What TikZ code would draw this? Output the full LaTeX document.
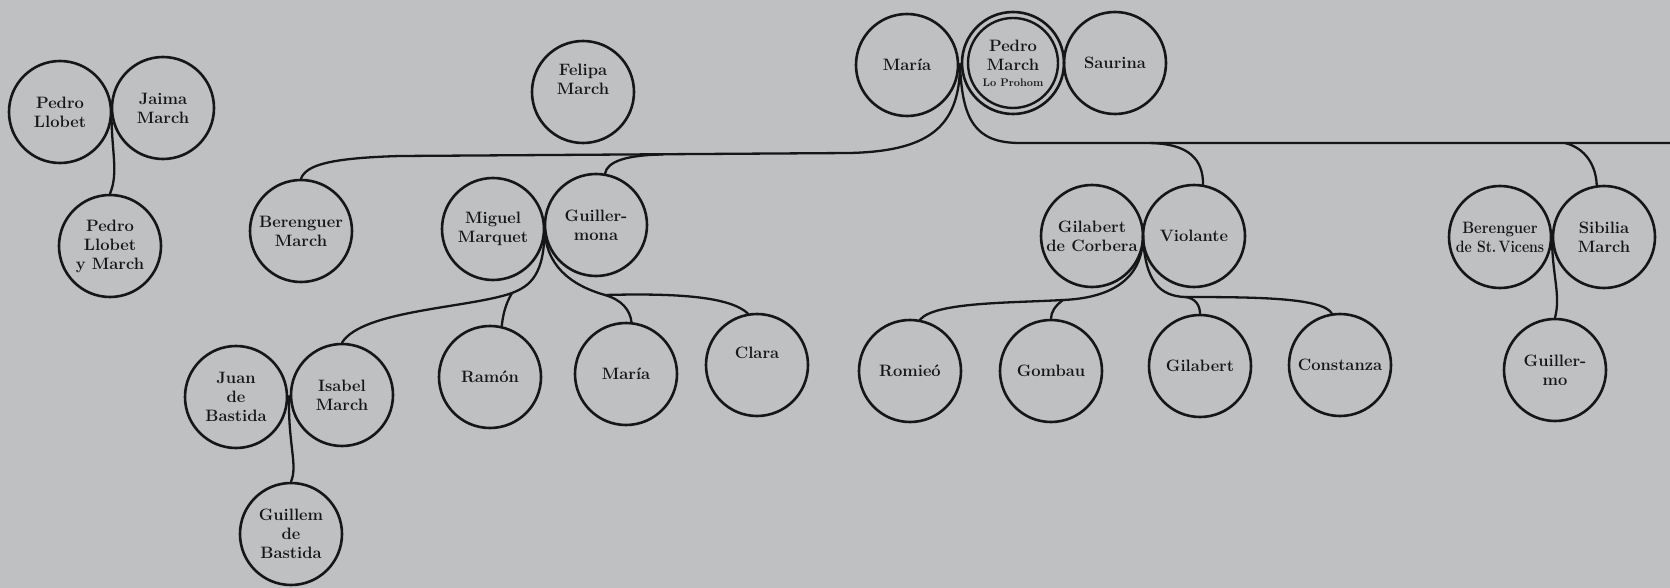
\documentclass[tikz,border=0pt]{standalone}
\usepackage{graphicx}
\usetikzlibrary{calc}
\definecolor{bgc}{RGB}{190,192,194}
\definecolor{ink}{RGB}{22,22,22}
\tikzset{
  person/.style={circle, draw=ink, line width=2.6pt, minimum size=102pt, inner sep=0pt,
    align=center, font=\fontsize{16.5}{19}\selectfont\bfseries, text=ink},
  link/.style={draw=ink, line width=2.3pt, line cap=round},
}
\begin{document}
\begin{tikzpicture}[x=1pt,y=-1pt]
\fill[bgc] (0,0) rectangle (1670,588);
\useasboundingbox (0,0) rectangle (1670,588);

% persons
\node[person] (pl) at (60,112) {Pedro\\Llobet};
\node[person] (ja) at (163,108) {Jaima\\March};
\node[person] (plm) at (110,246) {Pedro\\Llobet\\y March};

\node[person] (fm) at (583,92) {Felipa\\March\\[6pt]};

\node[person] (ma) at (907,65) {María};
\node[person] (pm) at (1013,63) {Pedro\\March\\[-3pt]{\fontsize{11}{11}\selectfont Lo Prohom}};
\draw[ink, line width=2.4pt] (pm.center) circle[radius=45pt];
\node[person] (sa) at (1115,63) {Saurina};

\node[person] (bm) at (301,231) {Berenguer\\March};
\node[person] (mq) at (493,229) {Miguel\\Marquet};
\node[person] (gm) at (596,225) {Guiller-\\mona};

\node[person] (jb) at (236,397) {Juan\\de\\Bastida};
\node[person] (im) at (342,395) {Isabel\\March};
\node[person] (gb) at (291,534) {Guillem\\de\\Bastida};

\node[person] (ra) at (490,377) {Ramón};
\node[person] (m2) at (626,374) {María};
\node[person] (cl) at (757,365) {Clara\\[6pt]};

\node[person] (gc) at (1092,236) {Gilabert\\de Corbera};
\node[person] (vi) at (1194,236) {Violante};

\node[person] (ro) at (910,371) {Romieó};
\node[person] (go) at (1051,371) {Gombau};
\node[person] (gi) at (1200,366) {Gilabert};
\node[person] (co) at (1340,365) {Constanza};

\node[person] (bv) at (1500,237) {\scalebox{0.9}[1]{Berenguer}\\\scalebox{0.85}[1]{de St.\,Vicens}};
\node[person] (sb) at (1604,237) {Sibilia\\March};
\node[person] (gu) at (1555,370) {Guiller-\\mo};

% junction points where couples touch
\coordinate (j1) at ($(pl.center)!0.5!(ja.center)$);
\coordinate (jt) at ($(ma.center)!0.5!(pm.center)$);
\coordinate (jq) at ($(mq.center)!0.5!(gm.center)$);
\coordinate (jbi) at ($(jb.center)!0.5!(im.center)$);
\coordinate (jg) at ($(gc.center)!0.5!(vi.center)$);
\coordinate (jsv) at ($(bv.center)!0.5!(sb.center)$);
\coordinate (rt) at (1670,143);

% connectors
\draw[link] (j1) .. controls (111,150) and (119,172) .. (plm.north);

\draw[link] (jt) .. controls (960,130) and (925,151) .. (850,153)
  -- (400,156) .. controls (330,158) and (306,165) .. (bm.north);
\draw[link] (663,154.5) .. controls (625,155) and (607,162) .. (gm.80);

\draw[link] (jt) .. controls (962,120) and (975,143) .. (1020,143) -- (rt);
\draw[link] (1150,143) .. controls (1190,144) and (1203,160) .. (vi.80);
\draw[link] (1565,143) .. controls (1585,148) and (1596,165) .. (sb.98);

\draw[link] (jq) .. controls (545,275) and (530,286) .. (512,293)
  .. controls (470,308) and (362,310) .. (im.north);
\draw[link] (512,293) .. controls (505,305) and (503,315) .. (ra.77);
\draw[link] (jq) .. controls (545,265) and (570,285) .. (605,295)
  .. controls (622,300) and (630,310) .. (m2.84);
\draw[link] (605,295) .. controls (680,293) and (730,297) .. (cl.100);

\draw[link] (jbi) .. controls (288,445) and (298,465) .. (gb.north);

\draw[link] (jg) .. controls (1143,280) and (1110,298) .. (1063,300)
  .. controls (1010,303) and (935,302) .. (ro.79);
\draw[link] (1063,300) .. controls (1055,306) and (1051,312) .. (go.north);
\draw[link] (jg) .. controls (1145,282) and (1160,296) .. (1185,297)
  .. controls (1195,298) and (1200,305) .. (gi.north);
\draw[link] (1185,297) .. controls (1260,297) and (1322,298) .. (co.99);

\draw[link] (jsv) .. controls (1552,275) and (1561,295) .. (gu.north);
\end{tikzpicture}
\end{document}
